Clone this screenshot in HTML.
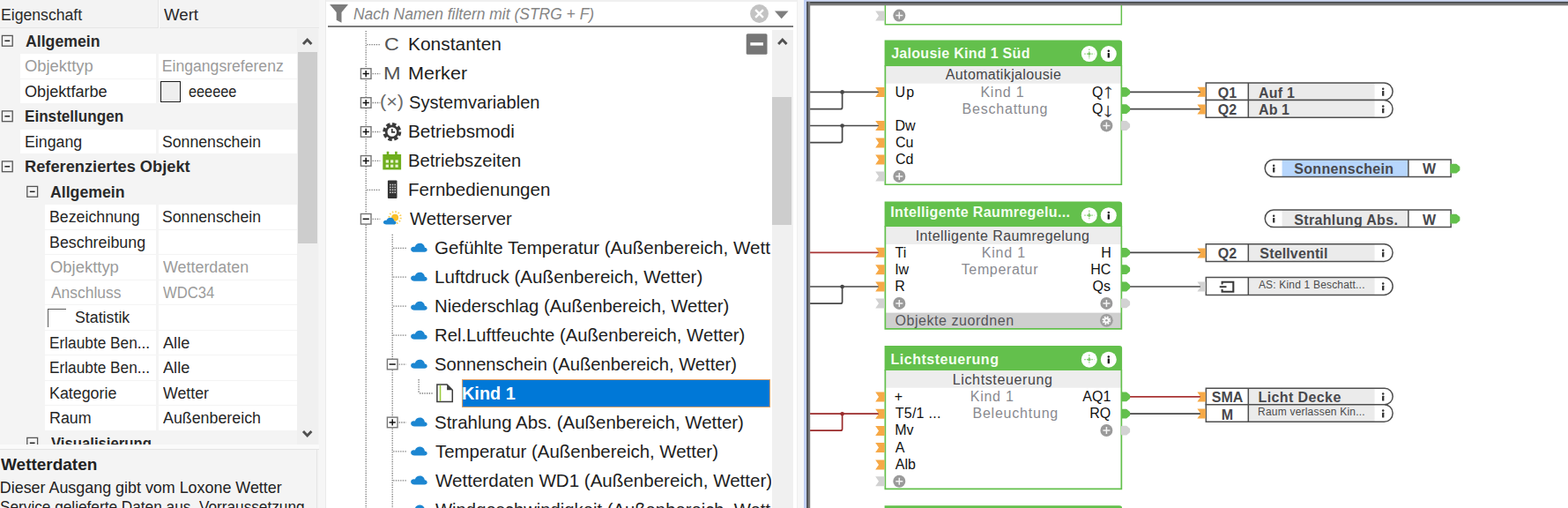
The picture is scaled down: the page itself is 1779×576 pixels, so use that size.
<!DOCTYPE html>
<html lang="de">
<head>
<meta charset="utf-8">
<title>Loxone Config – Eigenschaften, Peripherie, Seite</title>
<style>
html,body{margin:0;padding:0}
body{width:1779px;height:576px;overflow:hidden;position:relative;background:#fff;font-family:"Liberation Sans",sans-serif;-webkit-font-smoothing:antialiased}
.t{position:absolute;white-space:pre;transform-origin:0 50%;margin:0;padding:0}
.abs,section,header,div.cell,div.row,div.bar{position:absolute;box-sizing:border-box}
svg{position:absolute;left:0;top:0;overflow:visible}
#props{left:0;top:0;width:361.5px;height:504px;background:#f4f4f4;overflow:hidden}
#desc{left:0;top:504px;width:361.5px;height:72px;background:#f4f4f4;overflow:hidden}
#gap1{left:361.5px;top:0;width:8px;height:576px;background:#f6f6f6;border-right:1.4px solid #ebebeb}
#tree{left:369.5px;top:0;width:534.5px;height:576px;background:#fff;overflow:hidden}
#gap2{left:904px;top:0;width:8.4px;height:576px;background:#f7f7f7;border-left:1.2px solid #efefef}
#canvas{left:912.4px;top:0;width:866.6px;height:576px;background:#fff;overflow:hidden}
.cell{background:#fff}
</style>
</head>
<body>
<section id="props" class="abs">
<header class="abs" style="left:0;top:0;width:361.5px;height:32px;background:#f3f3f3;border-bottom:1.2px solid #e6e6e6"></header>
<div class="abs" style="left:178.8px;top:0;width:1.2px;height:32px;background:#e4e4e4"></div><div class="abs" style="left:180px;top:0;width:1.4px;height:32px;background:#fbfbfb"></div>
<span class="t" style="left:28.93px;top:35px;font-size:17.6px;line-height:24px;color:#2a2a2a;font-weight:700;transform:scaleX(1.0044);">Allgemein</span>
<div class="cell" style="left:22.8px;top:61.10px;width:154.4px;height:27.50px"></div>
<div class="cell" style="left:179.6px;top:61.10px;width:157.2px;height:27.50px"></div>
<span class="t" style="left:28.45px;top:63px;font-size:17.6px;line-height:24px;color:#9b9b9b;transform:scaleX(1.0452);">Objekttyp</span>
<span class="t" style="left:183.82px;top:63px;font-size:17.6px;line-height:24px;color:#9b9b9b;">Eingangsreferenz</span>
<div class="cell" style="left:22.8px;top:89.60px;width:154.4px;height:27.50px"></div>
<div class="cell" style="left:179.6px;top:89.60px;width:157.2px;height:27.50px"></div>
<span class="t" style="left:28.47px;top:92px;font-size:17.6px;line-height:24px;color:#262626;transform:scaleX(1.0303);">Objektfarbe</span>
<div class="abs" style="left:181.6px;top:92.00px;width:23.8px;height:23.6px;border:1.5px solid #1c1c1c;background:#eee"></div>
<span class="t" style="left:213.53px;top:92px;font-size:17.6px;line-height:24px;color:#262626;transform:scaleX(0.9253);">eeeeee</span>
<span class="t" style="left:28.42px;top:120px;font-size:17.6px;line-height:24px;color:#2a2a2a;font-weight:700;transform:scaleX(0.9724);">Einstellungen</span>
<div class="cell" style="left:22.8px;top:146.60px;width:154.4px;height:27.50px"></div>
<div class="cell" style="left:179.6px;top:146.60px;width:157.2px;height:27.50px"></div>
<span class="t" style="left:28.11px;top:149px;font-size:17.6px;line-height:24px;color:#262626;transform:scaleX(1.0088);">Eingang</span>
<span class="t" style="left:184.17px;top:149px;font-size:17.6px;line-height:24px;color:#262626;transform:scaleX(1.0043);">Sonnenschein</span>
<span class="t" style="left:28.34px;top:177px;font-size:17.6px;line-height:24px;color:#2a2a2a;font-weight:700;transform:scaleX(1.0373);">Referenziertes Objekt</span>
<span class="t" style="left:57.23px;top:206px;font-size:17.6px;line-height:24px;color:#2a2a2a;font-weight:700;transform:scaleX(1.0057);">Allgemein</span>
<div class="cell" style="left:51.2px;top:232.10px;width:126.0px;height:27.50px"></div>
<div class="cell" style="left:179.6px;top:232.10px;width:157.2px;height:27.50px"></div>
<span class="t" style="left:56.40px;top:234px;font-size:17.6px;line-height:24px;color:#262626;transform:scaleX(1.0098);">Bezeichnung</span>
<span class="t" style="left:184.17px;top:234px;font-size:17.6px;line-height:24px;color:#262626;transform:scaleX(1.0043);">Sonnenschein</span>
<div class="cell" style="left:51.2px;top:260.60px;width:126.0px;height:27.50px"></div>
<div class="cell" style="left:179.6px;top:260.60px;width:157.2px;height:27.50px"></div>
<span class="t" style="left:56.40px;top:263px;font-size:17.6px;line-height:24px;color:#262626;transform:scaleX(1.0138);">Beschreibung</span>
<div class="cell" style="left:51.2px;top:289.10px;width:126.0px;height:27.50px"></div>
<div class="cell" style="left:179.6px;top:289.10px;width:157.2px;height:27.50px"></div>
<span class="t" style="left:56.75px;top:291px;font-size:17.6px;line-height:24px;color:#9b9b9b;transform:scaleX(1.0479);">Objekttyp</span>
<span class="t" style="left:185.04px;top:291px;font-size:17.6px;line-height:24px;color:#9b9b9b;transform:scaleX(1.0170);">Wetterdaten</span>
<div class="cell" style="left:51.2px;top:317.60px;width:126.0px;height:27.50px"></div>
<div class="cell" style="left:179.6px;top:317.60px;width:157.2px;height:27.50px"></div>
<span class="t" style="left:57.64px;top:320px;font-size:17.6px;line-height:24px;color:#9b9b9b;transform:scaleX(0.9905);">Anschluss</span>
<span class="t" style="left:185.05px;top:320px;font-size:17.6px;line-height:24px;color:#9b9b9b;transform:scaleX(0.9451);">WDC34</span>
<div class="cell" style="left:51.2px;top:346.10px;width:126.0px;height:27.50px"></div>
<div class="cell" style="left:179.6px;top:346.10px;width:157.2px;height:27.50px"></div>
<div class="abs" style="left:54.2px;top:349.70px;width:21px;height:21px;border-left:1.6px solid #5a5a5a;border-top:1.6px solid #5a5a5a;background:#fff"></div>
<span class="t" style="left:85.16px;top:348px;font-size:17.6px;line-height:24px;color:#262626;transform:scaleX(1.0101);">Statistik</span>
<div class="cell" style="left:51.2px;top:374.60px;width:126.0px;height:27.50px"></div>
<div class="cell" style="left:179.6px;top:374.60px;width:157.2px;height:27.50px"></div>
<span class="t" style="left:56.44px;top:377px;font-size:17.6px;line-height:24px;color:#262626;transform:scaleX(0.9809);">Erlaubte Ben...</span>
<span class="t" style="left:185.03px;top:377px;font-size:17.6px;line-height:24px;color:#262626;transform:scaleX(1.0324);">Alle</span>
<div class="cell" style="left:51.2px;top:403.10px;width:126.0px;height:27.50px"></div>
<div class="cell" style="left:179.6px;top:403.10px;width:157.2px;height:27.50px"></div>
<span class="t" style="left:56.44px;top:405px;font-size:17.6px;line-height:24px;color:#262626;transform:scaleX(0.9809);">Erlaubte Ben...</span>
<span class="t" style="left:185.03px;top:405px;font-size:17.6px;line-height:24px;color:#262626;transform:scaleX(1.0324);">Alle</span>
<div class="cell" style="left:51.2px;top:431.60px;width:126.0px;height:27.50px"></div>
<div class="cell" style="left:179.6px;top:431.60px;width:157.2px;height:27.50px"></div>
<span class="t" style="left:56.40px;top:434px;font-size:17.6px;line-height:24px;color:#262626;transform:scaleX(1.0129);">Kategorie</span>
<span class="t" style="left:185.04px;top:434px;font-size:17.6px;line-height:24px;color:#262626;transform:scaleX(1.0093);">Wetter</span>
<div class="cell" style="left:51.2px;top:460.10px;width:126.0px;height:27.50px"></div>
<div class="cell" style="left:179.6px;top:460.10px;width:157.2px;height:27.50px"></div>
<span class="t" style="left:56.40px;top:462px;font-size:17.6px;line-height:24px;color:#262626;transform:scaleX(1.0148);">Raum</span>
<span class="t" style="left:185.04px;top:462px;font-size:17.6px;line-height:24px;color:#262626;transform:scaleX(1.0129);">Außenbereich</span>
<span class="t" style="left:57.57px;top:491px;font-size:17.6px;line-height:24px;color:#2a2a2a;font-weight:700;transform:scaleX(0.9494);">Visualisierung</span>
<span class="t" style="left:1.01px;top:5px;font-size:18.0px;line-height:24px;color:#2a2a2a;transform:scaleX(0.9795);">Eigenschaft</span>
<span class="t" style="left:186.13px;top:5px;font-size:18.0px;line-height:24px;color:#2a2a2a;transform:scaleX(1.0359);">Wert</span>
<div class="abs" style="left:337.4px;top:33px;width:24.1px;height:471px;background:#f0f0f0"></div>
<div class="abs" style="left:338px;top:58.8px;width:22px;height:217.2px;background:#cdcdcd"></div>
<svg width="362" height="504" viewBox="0 0 362 504"><rect x="2.40" y="40.40" width="11.8" height="11.8" fill="none" stroke="#555" stroke-width="1.3"/><path d="M5.40 46.30H11.20" stroke="#222" stroke-width="1.5" fill="none"/><rect x="2.40" y="125.90" width="11.8" height="11.8" fill="none" stroke="#555" stroke-width="1.3"/><path d="M5.40 131.80H11.20" stroke="#222" stroke-width="1.5" fill="none"/><rect x="2.40" y="182.90" width="11.8" height="11.8" fill="none" stroke="#555" stroke-width="1.3"/><path d="M5.40 188.80H11.20" stroke="#222" stroke-width="1.5" fill="none"/><rect x="30.80" y="211.40" width="11.8" height="11.8" fill="none" stroke="#555" stroke-width="1.3"/><path d="M33.80 217.30H39.60" stroke="#222" stroke-width="1.5" fill="none"/><rect x="30.80" y="496.40" width="11.8" height="11.8" fill="none" stroke="#555" stroke-width="1.3"/><path d="M33.80 502.30H39.60" stroke="#222" stroke-width="1.5" fill="none"/><path d="M344.0 50.0L348.7 45.0L353.4 50.0" fill="none" stroke="#505050" stroke-width="2.9"/><path d="M344.0 489.0L348.7 494.0L353.4 489.0" fill="none" stroke="#505050" stroke-width="2.9"/></svg>
</section>
<section id="desc" class="abs">
<div class="abs" style="left:0;top:0;width:361.5px;height:6px;background:#fafafa;border-bottom:1.2px solid #e4e4e4"></div>
<div class="abs" style="left:358.6px;top:6px;width:1.2px;height:66px;background:#e4e4e4"></div>
<span class="t" style="left:1.11px;top:11px;font-size:17.900000000000002px;line-height:24px;color:#222;font-weight:700;transform:scaleX(1.0610);">Wetterdaten</span>
<span class="t" style="left:-0.21px;top:37px;font-size:17.900000000000002px;line-height:24px;color:#222;">Dieser Ausgang gibt vom Loxone Wetter</span>
<span class="t" style="left:0.20px;top:59px;font-size:17.900000000000002px;line-height:24px;color:#222;transform:scaleX(0.9625);">Service gelieferte Daten aus. Vorraussetzung</span>
</section>
<div id="gap1" class="abs"></div>
<section id="tree" class="abs">
<div class="abs" style="left:0;top:0;width:534.5px;height:2px;background:#f0f0f0"></div>
<span class="t" style="left:31.22px;top:4px;font-size:18.2px;line-height:24px;color:#858585;font-style:italic;transform:scaleX(0.9600);">Nach Namen filtern mit (STRG + F)</span>
<div class="abs" style="left:2.5px;top:29px;width:528px;height:1.7px;background:#7c7c7c"></div>
<div class="abs" style="left:506.5px;top:33.6px;width:24px;height:543px;background:#f0f0f0"></div>
<div class="abs" style="left:506.7px;top:109.8px;width:22px;height:145.5px;background:#cdcdcd"></div>
<div class="abs" id="treeclip" style="left:0;top:32px;width:505.9px;height:544px;overflow:hidden">
<span class="t" style="left:93.74px;top:4px;font-size:21px;line-height:27px;color:#1e1e1e;transform:scaleX(0.9970);">Konstanten</span>
<span class="t" style="left:66.74px;top:4px;font-size:21px;line-height:27px;color:#555;transform:scaleX(1.1065);">C</span>
<span class="t" style="left:93.69px;top:37px;font-size:21px;line-height:27px;color:#1e1e1e;transform:scaleX(1.0263);">Merker</span>
<span class="t" style="left:65.43px;top:37px;font-size:21px;line-height:27px;color:#555;transform:scaleX(1.1210);">M</span>
<span class="t" style="left:94.14px;top:70px;font-size:21px;line-height:27px;color:#1e1e1e;transform:scaleX(0.9564);">Systemvariablen</span>
<span class="t" style="left:61.02px;top:69px;font-size:21px;line-height:27px;color:#6a6a6a;transform:scaleX(1.0271);">(×)</span>
<span class="t" style="left:93.75px;top:103px;font-size:21px;line-height:27px;color:#1e1e1e;transform:scaleX(0.9870);">Betriebsmodi</span>
<span class="t" style="left:93.79px;top:136px;font-size:21px;line-height:27px;color:#1e1e1e;transform:scaleX(0.9631);">Betriebszeiten</span>
<span class="t" style="left:93.76px;top:169px;font-size:21px;line-height:27px;color:#1e1e1e;transform:scaleX(0.9807);">Fernbedienungen</span>
<span class="t" style="left:95.21px;top:202px;font-size:21px;line-height:27px;color:#1e1e1e;transform:scaleX(0.9668);">Wetterserver</span>
<span class="t" style="left:123.97px;top:235px;font-size:21px;line-height:27px;color:#1e1e1e;transform:scaleX(0.9788);">Gefühlte Temperatur (Außenbereich, Wett</span>
<span class="t" style="left:123.36px;top:268px;font-size:21px;line-height:27px;color:#1e1e1e;transform:scaleX(0.9815);">Luftdruck (Außenbereich, Wetter)</span>
<span class="t" style="left:123.39px;top:301px;font-size:21px;line-height:27px;color:#1e1e1e;transform:scaleX(0.9655);">Niederschlag (Außenbereich, Wetter)</span>
<span class="t" style="left:123.39px;top:334px;font-size:21px;line-height:27px;color:#1e1e1e;transform:scaleX(0.9650);">Rel.Luftfeuchte (Außenbereich, Wetter)</span>
<span class="t" style="left:123.73px;top:367px;font-size:21px;line-height:27px;color:#1e1e1e;transform:scaleX(0.9611);">Sonnenschein (Außenbereich, Wetter)</span>
<div class="abs" style="left:154.5px;top:398.4px;width:349.9px;height:31.2px;background:#0078d7;border:1.2px solid #e0a068"></div>
<span class="t" style="left:154.82px;top:400px;font-size:21px;line-height:27px;color:#fff;font-weight:700;transform:scaleX(0.9467);">Kind 1</span>
<span class="t" style="left:123.72px;top:433px;font-size:21px;line-height:27px;color:#1e1e1e;transform:scaleX(0.9740);">Strahlung Abs. (Außenbereich, Wetter)</span>
<span class="t" style="left:124.60px;top:466px;font-size:21px;line-height:27px;color:#1e1e1e;transform:scaleX(0.9728);">Temperatur (Außenbereich, Wetter)</span>
<span class="t" style="left:124.81px;top:499px;font-size:21px;line-height:27px;color:#1e1e1e;transform:scaleX(0.9794);">Wetterdaten WD1 (Außenbereich, Wetter)</span>
<span class="t" style="left:124.81px;top:532px;font-size:21px;line-height:27px;color:#1e1e1e;transform:scaleX(0.9643);">Windgeschwindigkeit (Außenbereich, Wett</span>
</div>
<svg width="535" height="576" viewBox="0 0 535 576" style="clip-path:inset(0 0 0 0)"><path d="M4.1 5.1H25.0L17.5 14.0V25.8L11.7 22.8V14.0Z" fill="#7c7c7c"/><circle cx="491.5" cy="15.5" r="10.4" fill="#c3c3c3"/><path d="M487.1 11.1L495.9 19.9M495.9 11.1L487.1 19.9" stroke="#fff" stroke-width="2.3" fill="none"/><path d="M508.9 12.4H524.5L516.7 21.2Z" fill="#7e7e7e"/><path d="M513.1 50.0L517.8 45.0L522.5 50.0" fill="none" stroke="#505050" stroke-width="2.9"/><rect x="476.7" y="38.2" width="23.8" height="23.6" rx="1.6" fill="#767676"/><rect x="481.3" y="48.2" width="14.6" height="3.4" fill="#fff"/><path d="M45.2 35V576" stroke="#7a7a7a" stroke-width="1.3" stroke-dasharray="1.3 1.35" fill="none"/><path d="M75.2 265.8V576" stroke="#7a7a7a" stroke-width="1.3" stroke-dasharray="1.3 1.35" fill="none"/><path d="M105.1 430.1V446.0" stroke="#7a7a7a" stroke-width="1.3" stroke-dasharray="1.3 1.35" fill="none"/><path d="M46.2 50.6H61.3" stroke="#7a7a7a" stroke-width="1.3" stroke-dasharray="1.3 1.35" fill="none"/><path d="M52.6 83.6H61.3" stroke="#7a7a7a" stroke-width="1.3" stroke-dasharray="1.3 1.35" fill="none"/><rect x="39.40" y="77.75" width="11.6" height="11.6" fill="#fff" stroke="#767676" stroke-width="1.4"/><path d="M41.60 83.55H48.80" stroke="#111" stroke-width="1.5"/><path d="M45.20 79.95V87.15" stroke="#111" stroke-width="1.5"/><path d="M52.6 116.5H61.3" stroke="#7a7a7a" stroke-width="1.3" stroke-dasharray="1.3 1.35" fill="none"/><rect x="39.40" y="110.70" width="11.6" height="11.6" fill="#fff" stroke="#767676" stroke-width="1.4"/><path d="M41.60 116.50H48.80" stroke="#111" stroke-width="1.5"/><path d="M45.20 112.90V120.10" stroke="#111" stroke-width="1.5"/><path d="M52.6 149.5H61.3" stroke="#7a7a7a" stroke-width="1.3" stroke-dasharray="1.3 1.35" fill="none"/><rect x="39.40" y="143.65" width="11.6" height="11.6" fill="#fff" stroke="#767676" stroke-width="1.4"/><path d="M41.60 149.45H48.80" stroke="#111" stroke-width="1.5"/><path d="M45.20 145.85V153.05" stroke="#111" stroke-width="1.5"/><circle cx="74.8" cy="149.5" r="8.3" fill="none" stroke="#3a3a3a" stroke-width="4.4" stroke-dasharray="4.1 2.42"/><circle cx="74.8" cy="149.5" r="6.6" fill="#fff" stroke="#3a3a3a" stroke-width="2.6"/><path d="M74.8 145.9V149.9H78.2" fill="none" stroke="#3a3a3a" stroke-width="1.7"/><path d="M52.6 182.4H61.3" stroke="#7a7a7a" stroke-width="1.3" stroke-dasharray="1.3 1.35" fill="none"/><rect x="39.40" y="176.60" width="11.6" height="11.6" fill="#fff" stroke="#767676" stroke-width="1.4"/><path d="M41.60 182.40H48.80" stroke="#111" stroke-width="1.5"/><path d="M45.20 178.80V186.00" stroke="#111" stroke-width="1.5"/><rect x="64.3" y="175.0" width="20.8" height="17.4" fill="#6fae1e"/><rect x="68.7" y="171.8" width="2.6" height="5" fill="#6fae1e"/><rect x="78.1" y="171.8" width="2.6" height="5" fill="#6fae1e"/><rect x="67.7" y="181.4" width="3.2" height="3.2" fill="#e9f5d2"/><rect x="73.1" y="181.4" width="3.2" height="3.2" fill="#e9f5d2"/><rect x="78.5" y="181.4" width="3.2" height="3.2" fill="#e9f5d2"/><rect x="67.7" y="186.6" width="3.2" height="3.2" fill="#e9f5d2"/><rect x="73.1" y="186.6" width="3.2" height="3.2" fill="#e9f5d2"/><rect x="78.5" y="186.6" width="3.2" height="3.2" fill="#e9f5d2"/><path d="M46.2 215.3H61.3" stroke="#7a7a7a" stroke-width="1.3" stroke-dasharray="1.3 1.35" fill="none"/><rect x="69.9" y="204.5" width="10.6" height="20.6" rx="1" fill="#333"/><rect x="72.1" y="208.7" width="1.5" height="1.6" fill="#cfcfcf"/><rect x="74.8" y="208.7" width="1.5" height="1.6" fill="#cfcfcf"/><rect x="77.5" y="208.7" width="1.5" height="1.6" fill="#cfcfcf"/><rect x="72.1" y="211.6" width="1.5" height="1.6" fill="#cfcfcf"/><rect x="74.8" y="211.6" width="1.5" height="1.6" fill="#cfcfcf"/><rect x="77.5" y="211.6" width="1.5" height="1.6" fill="#cfcfcf"/><rect x="72.1" y="214.5" width="1.5" height="1.6" fill="#cfcfcf"/><rect x="74.8" y="214.5" width="1.5" height="1.6" fill="#cfcfcf"/><rect x="77.5" y="214.5" width="1.5" height="1.6" fill="#cfcfcf"/><rect x="72.1" y="217.4" width="1.5" height="1.6" fill="#cfcfcf"/><rect x="74.8" y="217.4" width="1.5" height="1.6" fill="#cfcfcf"/><rect x="77.5" y="217.4" width="1.5" height="1.6" fill="#cfcfcf"/><path d="M52.6 248.3H61.3" stroke="#7a7a7a" stroke-width="1.3" stroke-dasharray="1.3 1.35" fill="none"/><rect x="39.40" y="242.50" width="11.6" height="11.6" fill="#fff" stroke="#767676" stroke-width="1.4"/><path d="M41.60 248.30H48.80" stroke="#111" stroke-width="1.5"/><circle cx="78.1" cy="246.7" r="4.0" fill="#fbc02a"/><circle cx="78.1" cy="246.7" r="6.6" fill="none" stroke="#fbd262" stroke-width="2.2" stroke-dasharray="1.5 1.955"/><g transform="translate(64.90,246.70) scale(0.785)"><path d="M4.3 10 C1.6 10 0 8.6 0 6.8 C0 5 1.5 3.8 3.4 3.8 C3.9 3.8 4.3 3.9 4.7 4 C5.5 1.6 7.6 0 10.2 0 C13.2 0 15.5 2.1 15.8 4.9 C17.4 5.1 18.6 6.1 18.6 7.5 C18.6 9 17.3 10 15.6 10 Z" fill="#1c86d1"/></g><path d="M76.2 281.3H90.9" stroke="#7a7a7a" stroke-width="1.3" stroke-dasharray="1.3 1.35" fill="none"/><g transform="translate(96.10,275.85) scale(1.000)"><path d="M4.3 10 C1.6 10 0 8.6 0 6.8 C0 5 1.5 3.8 3.4 3.8 C3.9 3.8 4.3 3.9 4.7 4 C5.5 1.6 7.6 0 10.2 0 C13.2 0 15.5 2.1 15.8 4.9 C17.4 5.1 18.6 6.1 18.6 7.5 C18.6 9 17.3 10 15.6 10 Z" fill="#1c86d1"/></g><path d="M76.2 314.2H90.9" stroke="#7a7a7a" stroke-width="1.3" stroke-dasharray="1.3 1.35" fill="none"/><g transform="translate(96.10,308.80) scale(1.000)"><path d="M4.3 10 C1.6 10 0 8.6 0 6.8 C0 5 1.5 3.8 3.4 3.8 C3.9 3.8 4.3 3.9 4.7 4 C5.5 1.6 7.6 0 10.2 0 C13.2 0 15.5 2.1 15.8 4.9 C17.4 5.1 18.6 6.1 18.6 7.5 C18.6 9 17.3 10 15.6 10 Z" fill="#1c86d1"/></g><path d="M76.2 347.2H90.9" stroke="#7a7a7a" stroke-width="1.3" stroke-dasharray="1.3 1.35" fill="none"/><g transform="translate(96.10,341.75) scale(1.000)"><path d="M4.3 10 C1.6 10 0 8.6 0 6.8 C0 5 1.5 3.8 3.4 3.8 C3.9 3.8 4.3 3.9 4.7 4 C5.5 1.6 7.6 0 10.2 0 C13.2 0 15.5 2.1 15.8 4.9 C17.4 5.1 18.6 6.1 18.6 7.5 C18.6 9 17.3 10 15.6 10 Z" fill="#1c86d1"/></g><path d="M76.2 380.1H90.9" stroke="#7a7a7a" stroke-width="1.3" stroke-dasharray="1.3 1.35" fill="none"/><g transform="translate(96.10,374.70) scale(1.000)"><path d="M4.3 10 C1.6 10 0 8.6 0 6.8 C0 5 1.5 3.8 3.4 3.8 C3.9 3.8 4.3 3.9 4.7 4 C5.5 1.6 7.6 0 10.2 0 C13.2 0 15.5 2.1 15.8 4.9 C17.4 5.1 18.6 6.1 18.6 7.5 C18.6 9 17.3 10 15.6 10 Z" fill="#1c86d1"/></g><path d="M82.6 413.1H90.9" stroke="#7a7a7a" stroke-width="1.3" stroke-dasharray="1.3 1.35" fill="none"/><rect x="69.40" y="407.25" width="11.6" height="11.6" fill="#fff" stroke="#767676" stroke-width="1.4"/><path d="M71.60 413.05H78.80" stroke="#111" stroke-width="1.5"/><g transform="translate(96.10,407.65) scale(1.000)"><path d="M4.3 10 C1.6 10 0 8.6 0 6.8 C0 5 1.5 3.8 3.4 3.8 C3.9 3.8 4.3 3.9 4.7 4 C5.5 1.6 7.6 0 10.2 0 C13.2 0 15.5 2.1 15.8 4.9 C17.4 5.1 18.6 6.1 18.6 7.5 C18.6 9 17.3 10 15.6 10 Z" fill="#1c86d1"/></g><path d="M106.1 446.0H121.5" stroke="#7a7a7a" stroke-width="1.3" stroke-dasharray="1.3 1.35" fill="none"/><path d="M125.9 436.0H137.1L143.3 442.2V455.6H125.9Z" fill="#fff" stroke="#3c3c3c" stroke-width="1.5"/><path d="M137.1 436.0V442.2H143.3Z" fill="#3c3c3c"/><path d="M129.5 436.8V454.8" stroke="#9acb3c" stroke-width="1.6"/><path d="M82.6 479.0H90.9" stroke="#7a7a7a" stroke-width="1.3" stroke-dasharray="1.3 1.35" fill="none"/><rect x="69.40" y="473.15" width="11.6" height="11.6" fill="#fff" stroke="#767676" stroke-width="1.4"/><path d="M71.60 478.95H78.80" stroke="#111" stroke-width="1.5"/><path d="M75.20 475.35V482.55" stroke="#111" stroke-width="1.5"/><g transform="translate(96.10,473.55) scale(1.000)"><path d="M4.3 10 C1.6 10 0 8.6 0 6.8 C0 5 1.5 3.8 3.4 3.8 C3.9 3.8 4.3 3.9 4.7 4 C5.5 1.6 7.6 0 10.2 0 C13.2 0 15.5 2.1 15.8 4.9 C17.4 5.1 18.6 6.1 18.6 7.5 C18.6 9 17.3 10 15.6 10 Z" fill="#1c86d1"/></g><path d="M76.2 511.9H90.9" stroke="#7a7a7a" stroke-width="1.3" stroke-dasharray="1.3 1.35" fill="none"/><g transform="translate(96.10,506.50) scale(1.000)"><path d="M4.3 10 C1.6 10 0 8.6 0 6.8 C0 5 1.5 3.8 3.4 3.8 C3.9 3.8 4.3 3.9 4.7 4 C5.5 1.6 7.6 0 10.2 0 C13.2 0 15.5 2.1 15.8 4.9 C17.4 5.1 18.6 6.1 18.6 7.5 C18.6 9 17.3 10 15.6 10 Z" fill="#1c86d1"/></g><path d="M76.2 544.9H90.9" stroke="#7a7a7a" stroke-width="1.3" stroke-dasharray="1.3 1.35" fill="none"/><g transform="translate(96.10,539.45) scale(1.000)"><path d="M4.3 10 C1.6 10 0 8.6 0 6.8 C0 5 1.5 3.8 3.4 3.8 C3.9 3.8 4.3 3.9 4.7 4 C5.5 1.6 7.6 0 10.2 0 C13.2 0 15.5 2.1 15.8 4.9 C17.4 5.1 18.6 6.1 18.6 7.5 C18.6 9 17.3 10 15.6 10 Z" fill="#1c86d1"/></g><path d="M76.2 577.8H90.9" stroke="#7a7a7a" stroke-width="1.3" stroke-dasharray="1.3 1.35" fill="none"/><g transform="translate(96.10,572.40) scale(1.000)"><path d="M4.3 10 C1.6 10 0 8.6 0 6.8 C0 5 1.5 3.8 3.4 3.8 C3.9 3.8 4.3 3.9 4.7 4 C5.5 1.6 7.6 0 10.2 0 C13.2 0 15.5 2.1 15.8 4.9 C17.4 5.1 18.6 6.1 18.6 7.5 C18.6 9 17.3 10 15.6 10 Z" fill="#1c86d1"/></g></svg>
</section>
<div id="gap2" class="abs"></div>
<section id="canvas" class="abs">
<svg width="867" height="576" viewBox="0 0 867 576"><rect x="0" y="0" width="867" height="2" fill="#cfd8f4"/><rect x="0" y="0" width="3.2" height="576" fill="#c0cff4"/><rect x="3.2" y="1.9" width="864" height="4.4" fill="#7b7b7b"/><rect x="3.2" y="1.9" width="864" height="1.7" fill="#45484b"/><rect x="3.2" y="1.9" width="4" height="575" fill="#7b7b7b"/><rect x="3.2" y="1.9" width="1.6" height="575" fill="#45484b"/><path d="M92.35 6V27.65H360.35V6" fill="none" stroke="#63c04c" stroke-width="1.5"/><path d="M81.2 12.5H91.6V23.5H81.2L85.0 18.0Z" fill="#d2d2d2"/><circle cx="108.3" cy="17.6" r="7.0" fill="#9a9a9a"/><path d="M104.3 17.6H112.3M108.3 13.6V21.6" stroke="#f4f4f4" stroke-width="1.5" fill="none"/><path d="M7.1 104.4H85.2" fill="none" stroke="#474747" stroke-width="1.7" stroke-linejoin="round"/><path d="M43.6 104.4V121.7Q43.6 123.7 41.6 123.7H7.1" fill="none" stroke="#474747" stroke-width="1.7" stroke-linejoin="round"/><circle cx="43.6" cy="104.4" r="2.3" fill="#474747"/><path d="M7.1 142.5H85.2" fill="none" stroke="#474747" stroke-width="1.7" stroke-linejoin="round"/><path d="M43.6 142.5V159.6Q43.6 161.6 41.6 161.6H7.1" fill="none" stroke="#474747" stroke-width="1.7" stroke-linejoin="round"/><circle cx="43.6" cy="142.5" r="2.3" fill="#474747"/><path d="M7.1 286.3H85.2" fill="none" stroke="#a83434" stroke-width="1.7" stroke-linejoin="round"/><path d="M7.1 325.0H85.2" fill="none" stroke="#474747" stroke-width="1.7" stroke-linejoin="round"/><path d="M43.6 325.0V342.2Q43.6 344.2 41.6 344.2H7.1" fill="none" stroke="#474747" stroke-width="1.7" stroke-linejoin="round"/><circle cx="43.6" cy="325.0" r="2.3" fill="#474747"/><path d="M7.1 469.2H85.2" fill="none" stroke="#9a2a2a" stroke-width="1.7" stroke-linejoin="round"/><path d="M43.6 469.2V486.2Q43.6 488.2 41.6 488.2H7.1" fill="none" stroke="#9a2a2a" stroke-width="1.7" stroke-linejoin="round"/><circle cx="43.6" cy="469.2" r="2.3" fill="#9a2a2a"/><path d="M368.6 104.4H450.2" fill="none" stroke="#474747" stroke-width="1.7" stroke-linejoin="round"/><path d="M368.6 123.6H450.2" fill="none" stroke="#474747" stroke-width="1.7" stroke-linejoin="round"/><path d="M368.6 286.3H450.2" fill="none" stroke="#474747" stroke-width="1.7" stroke-linejoin="round"/><path d="M368.6 325.0H450.2" fill="none" stroke="#474747" stroke-width="1.7" stroke-linejoin="round"/><path d="M368.6 449.9H450.2" fill="none" stroke="#a83434" stroke-width="1.7" stroke-linejoin="round"/><path d="M368.6 469.2H450.2" fill="none" stroke="#474747" stroke-width="1.7" stroke-linejoin="round"/><path d="M91.6 45.5H358.1Q361.1 45.5 361.1 48.5V75.2H91.6Z" fill="#63c04c"/><rect x="92.6" y="75.2" width="267.5" height="19.5" fill="#ededed"/><path d="M92.35 74.2V209.25H360.35V74.2" fill="none" stroke="#63c04c" stroke-width="1.7"/><circle cx="323.8" cy="61.1" r="9" fill="#fff"/><circle cx="345.8" cy="61.1" r="9" fill="#fff"/><path d="M318.2 61.1H329.4M323.8 55.5V66.7" stroke="#8ed07c" stroke-width="1.3" stroke-dasharray="1.6 1.1" fill="none"/><circle cx="323.8" cy="61.1" r="1.7" fill="#7cc868"/><circle cx="345.80" cy="57.80" r="1.25" fill="#1a1a1a"/><rect x="344.65" y="60.00" width="2.3" height="5.6" rx="0.5" fill="#1a1a1a"/><path d="M91.6 228.6H358.1Q361.1 228.6 361.1 231.6V257.3H91.6Z" fill="#63c04c"/><rect x="92.6" y="257.3" width="267.5" height="19.7" fill="#ededed"/><rect x="92.6" y="354.6" width="267.5" height="18.2" fill="#cfcfcf"/><path d="M92.35 256.3V372.95H360.35V256.3" fill="none" stroke="#63c04c" stroke-width="1.7"/><circle cx="323.8" cy="244.2" r="9" fill="#fff"/><circle cx="345.8" cy="244.2" r="9" fill="#fff"/><path d="M318.2 244.2H329.4M323.8 238.6V249.8" stroke="#8ed07c" stroke-width="1.3" stroke-dasharray="1.6 1.1" fill="none"/><circle cx="323.8" cy="244.2" r="1.7" fill="#7cc868"/><circle cx="345.80" cy="240.90" r="1.25" fill="#1a1a1a"/><rect x="344.65" y="243.10" width="2.3" height="5.6" rx="0.5" fill="#1a1a1a"/><path d="M91.6 392.1H358.1Q361.1 392.1 361.1 395.1V420.3H91.6Z" fill="#63c04c"/><rect x="92.6" y="420.3" width="267.5" height="19.4" fill="#ededed"/><path d="M92.35 419.3V554.45H360.35V419.3" fill="none" stroke="#63c04c" stroke-width="1.7"/><circle cx="323.8" cy="407.7" r="9" fill="#fff"/><circle cx="345.8" cy="407.7" r="9" fill="#fff"/><path d="M318.2 407.7H329.4M323.8 402.1V413.3" stroke="#8ed07c" stroke-width="1.3" stroke-dasharray="1.6 1.1" fill="none"/><circle cx="323.8" cy="407.7" r="1.7" fill="#7cc868"/><circle cx="345.80" cy="404.40" r="1.25" fill="#1a1a1a"/><rect x="344.65" y="406.60" width="2.3" height="5.6" rx="0.5" fill="#1a1a1a"/><path d="M91.6 573.3H358.1Q361.1 573.3 361.1 576.3V604.0H91.6Z" fill="#63c04c"/><rect x="92.6" y="604.0" width="267.5" height="16.0" fill="#ededed"/><path d="M92.35 603.0V699.25H360.35V603.0" fill="none" stroke="#63c04c" stroke-width="1.7"/><circle cx="323.8" cy="588.9" r="9" fill="#fff"/><circle cx="345.8" cy="588.9" r="9" fill="#fff"/><path d="M318.2 588.9H329.4M323.8 583.3V594.5" stroke="#8ed07c" stroke-width="1.3" stroke-dasharray="1.6 1.1" fill="none"/><circle cx="323.8" cy="588.9" r="1.7" fill="#7cc868"/><circle cx="345.80" cy="585.60" r="1.25" fill="#1a1a1a"/><rect x="344.65" y="587.80" width="2.3" height="5.6" rx="0.5" fill="#1a1a1a"/><path d="M81.2 98.9H91.6V109.9H81.2L85.0 104.4Z" fill="#f6a947"/><path d="M81.2 137.0H91.6V148.0H81.2L85.0 142.5Z" fill="#f6a947"/><path d="M81.2 156.5H91.6V167.5H81.2L85.0 162.0Z" fill="#f6a947"/><path d="M81.2 175.5H91.6V186.5H81.2L85.0 181.0Z" fill="#f6a947"/><path d="M81.2 194.4H91.6V205.4H81.2L85.0 199.9Z" fill="#d2d2d2"/><circle cx="108.3" cy="199.9" r="7.0" fill="#9a9a9a"/><path d="M104.3 199.9H112.3M108.3 195.9V203.9" stroke="#f4f4f4" stroke-width="1.5" fill="none"/><path d="M361.1 100.1H365.7L369.0 102.9V105.9L365.7 108.7H361.1Z" fill="#63c04c" stroke="#63c04c" stroke-width="2.2" stroke-linejoin="round"/><path d="M361.1 119.3H365.7L369.0 122.1V125.1L365.7 127.9H361.1Z" fill="#63c04c" stroke="#63c04c" stroke-width="2.2" stroke-linejoin="round"/><path d="M361.1 138.2H365.7L369.0 141.0V144.0L365.7 146.8H361.1Z" fill="#d2d2d2" stroke="#d2d2d2" stroke-width="2.2" stroke-linejoin="round"/><circle cx="343.4" cy="142.4" r="7.0" fill="#9a9a9a"/><path d="M339.4 142.4H347.4M343.4 138.4V146.4" stroke="#f4f4f4" stroke-width="1.5" fill="none"/><path d="M81.2 280.8H91.6V291.8H81.2L85.0 286.3Z" fill="#f6a947"/><path d="M361.1 282.0H365.7L369.0 284.8V287.8L365.7 290.6H361.1Z" fill="#63c04c" stroke="#63c04c" stroke-width="2.2" stroke-linejoin="round"/><path d="M81.2 300.2H91.6V311.2H81.2L85.0 305.7Z" fill="#f6a947"/><path d="M361.1 301.4H365.7L369.0 304.2V307.2L365.7 310.0H361.1Z" fill="#63c04c" stroke="#63c04c" stroke-width="2.2" stroke-linejoin="round"/><path d="M81.2 319.5H91.6V330.5H81.2L85.0 325.0Z" fill="#f6a947"/><path d="M361.1 320.7H365.7L369.0 323.5V326.5L365.7 329.3H361.1Z" fill="#63c04c" stroke="#63c04c" stroke-width="2.2" stroke-linejoin="round"/><path d="M81.2 338.4H91.6V349.4H81.2L85.0 343.9Z" fill="#d2d2d2"/><circle cx="108.3" cy="343.9" r="7.0" fill="#9a9a9a"/><path d="M104.3 343.9H112.3M108.3 339.9V347.9" stroke="#f4f4f4" stroke-width="1.5" fill="none"/><path d="M361.1 339.6H365.7L369.0 342.4V345.4L365.7 348.2H361.1Z" fill="#d2d2d2" stroke="#d2d2d2" stroke-width="2.2" stroke-linejoin="round"/><circle cx="343.4" cy="343.9" r="7.0" fill="#9a9a9a"/><path d="M339.4 343.9H347.4M343.4 339.9V347.9" stroke="#f4f4f4" stroke-width="1.5" fill="none"/><path d="M81.2 444.4H91.6V455.4H81.2L85.0 449.9Z" fill="#f6a947"/><path d="M81.2 463.7H91.6V474.7H81.2L85.0 469.2Z" fill="#f6a947"/><path d="M81.2 482.9H91.6V493.9H81.2L85.0 488.4Z" fill="#f6a947"/><path d="M81.2 502.0H91.6V513.0H81.2L85.0 507.5Z" fill="#f6a947"/><path d="M81.2 521.5H91.6V532.5H81.2L85.0 527.0Z" fill="#f6a947"/><path d="M81.2 540.3H91.6V551.3H81.2L85.0 545.8Z" fill="#d2d2d2"/><circle cx="108.3" cy="545.8" r="7.0" fill="#9a9a9a"/><path d="M104.3 545.8H112.3M108.3 541.8V549.8" stroke="#f4f4f4" stroke-width="1.5" fill="none"/><path d="M361.1 445.6H365.7L369.0 448.4V451.4L365.7 454.2H361.1Z" fill="#63c04c" stroke="#63c04c" stroke-width="2.2" stroke-linejoin="round"/><path d="M361.1 464.9H365.7L369.0 467.7V470.7L365.7 473.5H361.1Z" fill="#63c04c" stroke="#63c04c" stroke-width="2.2" stroke-linejoin="round"/><path d="M361.1 483.9H365.7L369.0 486.7V489.7L365.7 492.5H361.1Z" fill="#d2d2d2" stroke="#d2d2d2" stroke-width="2.2" stroke-linejoin="round"/><circle cx="343.4" cy="488.0" r="7.0" fill="#9a9a9a"/><path d="M339.4 488.0H347.4M343.4 484.0V492.0" stroke="#f4f4f4" stroke-width="1.5" fill="none"/><circle cx="343.4" cy="363.3" r="7.4" fill="#9e9e9e"/><circle cx="343.4" cy="363.3" r="3.9" fill="none" stroke="#fbfbfb" stroke-width="2.0" stroke-dasharray="1.75 1.313"/><circle cx="343.4" cy="363.3" r="3.3" fill="#fbfbfb"/><circle cx="343.4" cy="363.3" r="1.3" fill="#9e9e9e"/><path d="M456.3 93.9H658.3A9.85 9.85 0 0 1 658.3 113.6H456.3Z" fill="#fff"/><rect x="504.3" y="93.9" width="143.3" height="19.7" fill="#ebebeb"/><path d="M456.3 93.9H658.3A9.85 9.85 0 0 1 658.3 113.6H456.3ZM504.3 93.9V113.6" fill="none" stroke="#4f4f4f" stroke-width="1.5"/><circle cx="657.20" cy="100.85" r="1.25" fill="#333"/><rect x="656.05" y="103.05" width="2.3" height="5.6" rx="0.5" fill="#333"/><path d="M446.4 98.8H455.8V109.8H446.4L450.2 104.2Z" fill="#f6a947"/><path d="M456.3 113.6H658.3A9.85 9.85 0 0 1 658.3 133.3H456.3Z" fill="#fff"/><rect x="504.3" y="113.6" width="143.3" height="19.7" fill="#ebebeb"/><path d="M456.3 113.6H658.3A9.85 9.85 0 0 1 658.3 133.3H456.3ZM504.3 113.6V133.3" fill="none" stroke="#4f4f4f" stroke-width="1.5"/><circle cx="657.20" cy="120.55" r="1.25" fill="#333"/><rect x="656.05" y="122.75" width="2.3" height="5.6" rx="0.5" fill="#333"/><path d="M446.4 118.5H455.8V129.4H446.4L450.2 124.0Z" fill="#f6a947"/><path d="M456.3 276.7H658.3A9.85 9.85 0 0 1 658.3 296.4H456.3Z" fill="#fff"/><rect x="504.3" y="276.7" width="143.3" height="19.7" fill="#ebebeb"/><path d="M456.3 276.7H658.3A9.85 9.85 0 0 1 658.3 296.4H456.3ZM504.3 276.7V296.4" fill="none" stroke="#4f4f4f" stroke-width="1.5"/><circle cx="657.20" cy="283.65" r="1.25" fill="#333"/><rect x="656.05" y="285.85" width="2.3" height="5.6" rx="0.5" fill="#333"/><path d="M446.4 281.5H455.8V292.5H446.4L450.2 287.0Z" fill="#f6a947"/><path d="M456.3 314.5H658.2A9.95 9.95 0 0 1 658.2 334.4H456.3Z" fill="#fff"/><rect x="504.3" y="314.5" width="143.3" height="19.9" fill="#ebebeb"/><path d="M456.3 314.5H658.2A9.95 9.95 0 0 1 658.2 334.4H456.3ZM504.3 314.5V334.4" fill="none" stroke="#4f4f4f" stroke-width="1.5"/><circle cx="657.20" cy="321.55" r="1.25" fill="#333"/><rect x="656.05" y="323.75" width="2.3" height="5.6" rx="0.5" fill="#333"/><path d="M446.4 319.4H455.8V330.4H446.4L450.2 324.9Z" fill="#d2d2d2"/><path d="M456.3 440.3H659.0A9.20 9.20 0 0 1 659.0 458.7H456.3Z" fill="#fff"/><rect x="504.3" y="440.3" width="143.3" height="18.4" fill="#ebebeb"/><path d="M456.3 440.3H659.0A9.20 9.20 0 0 1 659.0 458.7H456.3ZM504.3 440.3V458.7" fill="none" stroke="#4f4f4f" stroke-width="1.5"/><circle cx="657.20" cy="446.60" r="1.25" fill="#333"/><rect x="656.05" y="448.80" width="2.3" height="5.6" rx="0.5" fill="#333"/><path d="M446.4 444.5H455.8V455.5H446.4L450.2 450.0Z" fill="#f6a947"/><path d="M456.3 458.7H658.4A9.80 9.80 0 0 1 658.4 478.3H456.3Z" fill="#fff"/><rect x="504.3" y="458.7" width="143.3" height="19.6" fill="#ebebeb"/><path d="M456.3 458.7H658.4A9.80 9.80 0 0 1 658.4 478.3H456.3ZM504.3 458.7V478.3" fill="none" stroke="#4f4f4f" stroke-width="1.5"/><circle cx="657.20" cy="465.60" r="1.25" fill="#333"/><rect x="656.05" y="467.80" width="2.3" height="5.6" rx="0.5" fill="#333"/><path d="M446.4 463.5H455.8V474.5H446.4L450.2 469.0Z" fill="#f6a947"/><path d="M532.9 181.0H734.2V200.5H532.9A9.75 9.75 0 0 1 532.9 181.0Z" fill="#fff"/><rect x="542.6" y="181.0" width="143.3" height="19.5" fill="#b7d6fc"/><path d="M532.9 181.0H734.2V200.5H532.9A9.75 9.75 0 0 1 532.9 181.0ZM685.9 181.0V200.5" fill="none" stroke="#4f4f4f" stroke-width="1.5"/><circle cx="533.20" cy="187.65" r="1.25" fill="#333"/><rect x="532.05" y="189.85" width="2.3" height="5.6" rx="0.5" fill="#333"/><path d="M734.4 186.8H740.0L743.3 189.7V192.7L740.0 195.5H734.4Z" fill="#63c04c" stroke="#63c04c" stroke-width="2.2" stroke-linejoin="round"/><path d="M533.0 238.0H734.2V257.6H533.0A9.80 9.80 0 0 1 533.0 238.0Z" fill="#fff"/><rect x="542.6" y="238.0" width="143.3" height="19.6" fill="#ebebeb"/><path d="M533.0 238.0H734.2V257.6H533.0A9.80 9.80 0 0 1 533.0 238.0ZM685.9 238.0V257.6" fill="none" stroke="#4f4f4f" stroke-width="1.5"/><circle cx="533.20" cy="244.70" r="1.25" fill="#333"/><rect x="532.05" y="246.90" width="2.3" height="5.6" rx="0.5" fill="#333"/><path d="M734.4 243.9H740.0L743.3 246.7V249.7L740.0 252.5H734.4Z" fill="#63c04c" stroke="#63c04c" stroke-width="2.2" stroke-linejoin="round"/><path d="M474.6 322.4V319.7H487.3V330.7H474.6V328.0" fill="none" stroke="#3a3a3a" stroke-width="2.1"/><path d="M471.7 325.2H479.5" fill="none" stroke="#3a3a3a" stroke-width="2.0"/></svg>
<span class="t" style="left:98.79px;top:50px;font-size:16px;line-height:21px;color:#f4fff0;font-weight:700;letter-spacing:0.289px;">Jalousie Kind 1 Süd</span>
<span class="t" style="left:160.44px;top:74px;font-size:16px;line-height:21px;color:#454548;letter-spacing:0.351px;">Automatikjalousie</span>
<span class="t" style="left:103.13px;top:94px;font-size:16px;line-height:21px;color:#111;letter-spacing:1.093px;">Up</span>
<span class="t" style="left:200.06px;top:94px;font-size:16px;line-height:21px;color:#8a8a90;letter-spacing:0.745px;">Kind 1</span>
<span class="t" style="left:326.67px;top:94px;font-size:16px;line-height:21px;color:#111;">Q</span>
<span class="t" style="left:337.12px;top:80.45px;font-size:14px;line-height:28px;color:#3a3a3a;transform-origin:0 0;transform:scale(2.1809,1.6500);">↑</span>
<span class="t" style="left:179.16px;top:113px;font-size:16px;line-height:21px;color:#8a8a90;letter-spacing:0.786px;">Beschattung</span>
<span class="t" style="left:326.67px;top:113px;font-size:16px;line-height:21px;color:#111;">Q</span>
<span class="t" style="left:336.68px;top:101.88px;font-size:14px;line-height:28px;color:#3a3a3a;transform-origin:0 0;transform:scale(2.3219,1.5750);">↓</span>
<span class="t" style="left:103.06px;top:132px;font-size:16px;line-height:21px;color:#111;">Dw</span>
<span class="t" style="left:103.54px;top:151px;font-size:16px;line-height:21px;color:#111;">Cu</span>
<span class="t" style="left:103.54px;top:170px;font-size:16px;line-height:21px;color:#111;">Cd</span>
<span class="t" style="left:97.86px;top:230px;font-size:16px;line-height:21px;color:#f4fff0;font-weight:700;letter-spacing:0.362px;">Intelligente Raumregelu...</span>
<span class="t" style="left:126.28px;top:257px;font-size:16px;line-height:21px;color:#454548;letter-spacing:0.435px;">Intelligente Raumregelung</span>
<span class="t" style="left:103.10px;top:276px;font-size:16px;line-height:21px;color:#111;">Ti</span>
<span class="t" style="left:201.46px;top:276px;font-size:16px;line-height:21px;color:#8a8a90;letter-spacing:0.765px;">Kind 1</span>
<span class="t" style="left:336.78px;top:276px;font-size:16px;line-height:21px;color:#111;">H</span>
<span class="t" style="left:102.78px;top:295px;font-size:16px;line-height:21px;color:#111;">Iw</span>
<span class="t" style="left:178.30px;top:295px;font-size:16px;line-height:21px;color:#8a8a90;letter-spacing:0.652px;">Temperatur</span>
<span class="t" style="left:324.87px;top:295px;font-size:16px;line-height:21px;color:#111;">HC</span>
<span class="t" style="left:102.76px;top:314px;font-size:16px;line-height:21px;color:#111;">R</span>
<span class="t" style="left:327.20px;top:314px;font-size:16px;line-height:21px;color:#111;">Qs</span>
<span class="t" style="left:103.07px;top:353px;font-size:16px;line-height:21px;color:#55555a;letter-spacing:0.553px;">Objekte zuordnen</span>
<span class="t" style="left:98.06px;top:397px;font-size:16px;line-height:21px;color:#f4fff0;font-weight:700;letter-spacing:0.534px;">Lichtsteuerung</span>
<span class="t" style="left:168.36px;top:420px;font-size:16px;line-height:21px;color:#454548;letter-spacing:0.635px;">Lichtsteuerung</span>
<span class="t" style="left:102.48px;top:439px;font-size:16px;line-height:21px;color:#111;">+</span>
<span class="t" style="left:188.36px;top:439px;font-size:16px;line-height:21px;color:#8a8a90;letter-spacing:0.745px;">Kind 1</span>
<span class="t" style="left:315.90px;top:439px;font-size:16px;line-height:21px;color:#111;">AQ1</span>
<span class="t" style="left:103.30px;top:458px;font-size:16px;line-height:21px;color:#111;letter-spacing:0.273px;">T5/1 ...</span>
<span class="t" style="left:191.06px;top:458px;font-size:16px;line-height:21px;color:#8a8a90;letter-spacing:0.786px;">Beleuchtung</span>
<span class="t" style="left:323.85px;top:458px;font-size:16px;line-height:21px;color:#111;">RQ</span>
<span class="t" style="left:102.76px;top:477px;font-size:16px;line-height:21px;color:#111;">Mv</span>
<span class="t" style="left:103.44px;top:497px;font-size:16px;line-height:21px;color:#111;">A</span>
<span class="t" style="left:103.44px;top:516px;font-size:16px;line-height:21px;color:#111;">Alb</span>
<span class="t" style="left:469.38px;top:95px;font-size:16px;line-height:21px;color:#48484c;font-weight:700;">Q1</span>
<span class="t" style="left:515.67px;top:95px;font-size:16px;line-height:21px;color:#48484c;font-weight:700;letter-spacing:0.225px;">Auf 1</span>
<span class="t" style="left:469.41px;top:114px;font-size:16px;line-height:21px;color:#48484c;font-weight:700;">Q2</span>
<span class="t" style="left:515.67px;top:114px;font-size:16px;line-height:21px;color:#48484c;font-weight:700;letter-spacing:0.050px;">Ab 1</span>
<span class="t" style="left:555.84px;top:181px;font-size:16px;line-height:21px;color:#48484c;font-weight:700;letter-spacing:0.319px;">Sonnenschein</span>
<span class="t" style="left:701.66px;top:181px;font-size:16px;line-height:21px;color:#48484c;font-weight:700;">W</span>
<span class="t" style="left:555.84px;top:239px;font-size:16px;line-height:21px;color:#48484c;font-weight:700;letter-spacing:0.346px;">Strahlung Abs.</span>
<span class="t" style="left:701.66px;top:239px;font-size:16px;line-height:21px;color:#48484c;font-weight:700;">W</span>
<span class="t" style="left:469.41px;top:277px;font-size:16px;line-height:21px;color:#48484c;font-weight:700;">Q2</span>
<span class="t" style="left:516.94px;top:277px;font-size:16px;line-height:21px;color:#48484c;font-weight:700;letter-spacing:0.151px;">Stellventil</span>
<span class="t" style="left:515.50px;top:315px;font-size:12px;line-height:16px;color:#4c4c4c;letter-spacing:0.183px;">AS: Kind 1 Beschatt...</span>
<span class="t" style="left:462.37px;top:440px;font-size:16px;line-height:21px;color:#48484c;font-weight:700;">SMA</span>
<span class="t" style="left:515.16px;top:440px;font-size:16px;line-height:21px;color:#48484c;font-weight:700;letter-spacing:0.395px;">Licht Decke</span>
<span class="t" style="left:473.47px;top:460px;font-size:16px;line-height:21px;color:#48484c;font-weight:700;">M</span>
<span class="t" style="left:514.70px;top:459px;font-size:12px;line-height:16px;color:#4c4c4c;letter-spacing:0.205px;">Raum verlassen Kin...</span>
</section>
</body>
</html>
